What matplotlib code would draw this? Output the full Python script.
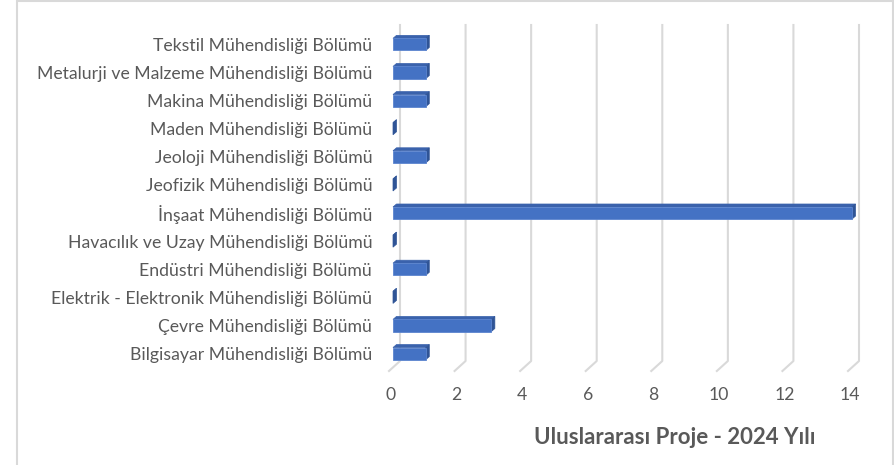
import matplotlib.pyplot as plt
from matplotlib.patches import Polygon, Rectangle

# data (bottom to top, as in the chart)
departments = [
    "Bilgisayar Mühendisliği Bölümü",
    "Çevre Mühendisliği Bölümü",
    "Elektrik - Elektronik Mühendisliği Bölümü",
    "Endüstri Mühendisliği Bölümü",
    "Havacılık ve Uzay Mühendisliği Bölümü",
    "İnşaat Mühendisliği Bölümü",
    "Jeofizik Mühendisliği Bölümü",
    "Jeoloji Mühendisliği Bölümü",
    "Maden Mühendisliği Bölümü",
    "Makina Mühendisliği Bölümü",
    "Metalurji ve Malzeme Mühendisliği Bölümü",
    "Tekstil Mühendisliği Bölümü",
]
projects = [1, 3, 0, 1, 0, 14, 0, 1, 0, 1, 1, 1]
x_ticks = [0, 2, 4, 6, 8, 10, 12, 14]
title = "Uluslararası Proje - 2024 Yılı"

plt.rcParams['font.family'] = ['Lato', 'DejaVu Sans']

W, H = 895, 465
fig = plt.figure(figsize=(W / 100, H / 100), dpi=100)

# axes box in pixels (front plane)
ax_l, ax_r, ax_t, ax_b = 391, 850, 25, 371
ax = fig.add_axes([ax_l / W, 1 - ax_b / H, (ax_r - ax_l) / W, (ax_b - ax_t) / H])
ax.set_xlim(0, 14)
ax.set_ylim(-0.62, 11.69)

px_x = (ax_r - ax_l) / 14.0
px_y = (ax_b - ax_t) / (11.69 + 0.62)

grid_col = "#D9D9D9"
text_col = "#595959"

# back wall gridlines with floor diagonal
back_dx, back_dy = 9 / px_x, 10 / px_y
for t in x_ticks:
    ax.plot([t - 2 / px_x, t + back_dx, t + back_dx],
            [-0.62, -0.62 + back_dy, 11.69],
            color=grid_col, lw=1.5, zorder=1, clip_on=False)

# 3d bars
h = 0.43
x0 = 2 / px_x
dx, dy = 3.5 / px_x, 3 / px_y
front = "#4472C4"
top_col = "#3A62AC"
side_col = "#2F5496"
for i, v in enumerate(projects):
    y0, y1 = i - h / 2, i + h / 2
    xe = x0 + v
    ax.add_patch(Polygon([(x0, y1), (xe, y1), (xe + dx, y1 + dy), (x0 + dx, y1 + dy)],
                         closed=True, facecolor=top_col, edgecolor=top_col,
                         lw=0.5, zorder=3, clip_on=False))
    ax.add_patch(Polygon([(xe, y0), (xe + dx, y0 + dy), (xe + dx, y1 + dy), (xe, y1)],
                         closed=True, facecolor=side_col, edgecolor=side_col,
                         lw=0.5, zorder=3, clip_on=False))
    if v > 0:
        ax.add_patch(Rectangle((x0, y0), v, h, facecolor=front,
                               edgecolor="#5B84CF", lw=0.6, zorder=4, clip_on=False))

ax.set_yticks(range(len(departments)))
ax.set_yticklabels(departments)
ax.set_xticks(x_ticks)
ax.set_xticklabels([str(t) for t in x_ticks])
ax.tick_params(axis='both', length=0, colors=text_col, labelsize=12.7)
ax.tick_params(axis='x', pad=11.5)
ax.tick_params(axis='y', pad=13.5)
for s in ax.spines.values():
    s.set_visible(False)
ax.patch.set_alpha(0)

fig.text(675 / W, 1 - 437 / H, title, ha='center', va='center',
         fontsize=16, fontweight='bold', color=text_col)

# chart area border
fig.add_artist(Rectangle((16.5 / W, -0.01), (893.5 - 16.5) / W, 1 - 1.5 / H + 0.01,
                         transform=fig.transFigure, fill=False,
                         edgecolor=grid_col, lw=1.5))

fig.savefig("out.png", dpi=100)
